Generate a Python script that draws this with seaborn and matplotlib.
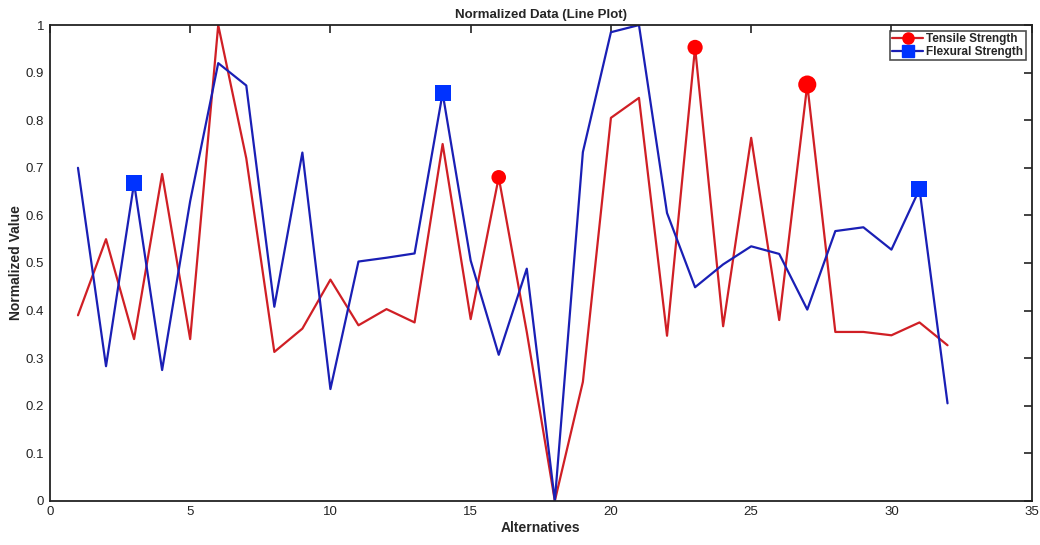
import numpy as np
import pandas as pd
import matplotlib
matplotlib.use('Agg')
import matplotlib.pyplot as plt
import seaborn as sns
from matplotlib.lines import Line2D

alternatives = list(range(1, 33))
tensile = [0.39, 0.55, 0.34, 0.687, 0.34, 1.0, 0.72, 0.313, 0.362, 0.465,
           0.369, 0.403, 0.375, 0.75, 0.382, 0.68, 0.355, 0.0, 0.25, 0.805,
           0.847, 0.347, 0.953, 0.367, 0.763, 0.38, 0.875, 0.355, 0.355, 0.348,
           0.375, 0.327]
flexural = [0.70, 0.283, 0.668, 0.275, 0.63, 0.92, 0.873, 0.408, 0.732, 0.235,
            0.503, 0.511, 0.52, 0.857, 0.505, 0.307, 0.488, 0.0, 0.733, 0.985,
            1.0, 0.605, 0.449, 0.497, 0.535, 0.519, 0.402, 0.567, 0.575, 0.528,
            0.655, 0.205]
# highlighted alternatives
tensile_marks = [16, 23, 27]
flexural_marks = [3, 14, 31]

df = pd.DataFrame({'Alternatives': alternatives, 'Tensile': tensile, 'Flexural': flexural})

sns.set_style('white')
plt.rcParams['font.family'] = ['Liberation Sans', 'DejaVu Sans']

fig = plt.figure(figsize=(10.4, 5.45), dpi=100)
ax = fig.add_axes([0.048, 0.081, 0.944, 0.873])

line_red = '#d01f25'
line_blue = '#1a1fb5'
mark_red = '#ff0000'
mark_blue = '#0033ff'

sns.lineplot(data=df, x='Alternatives', y='Tensile', color=line_red, linewidth=1.6, ax=ax)
sns.lineplot(data=df, x='Alternatives', y='Flexural', color=line_blue, linewidth=1.6, ax=ax)

tm = df[df['Alternatives'].isin(tensile_marks)]
fm = df[df['Alternatives'].isin(flexural_marks)]
sns.scatterplot(data=tm, x='Alternatives', y='Tensile', color=mark_red, marker='o',
                s=[110, 120, 170], linewidth=0, ax=ax, zorder=5)
sns.scatterplot(data=fm, x='Alternatives', y='Flexural', color=mark_blue, marker='s',
                s=140, linewidth=0, ax=ax, zorder=5)

ax.set_xlim(0, 35)
ax.set_ylim(0, 1)
ax.set_xticks(np.arange(0, 36, 5))
ax.set_yticks(np.arange(0, 1.01, 0.1))
ax.set_yticklabels(['0'] + [f'{v:.1f}' for v in np.arange(0.1, 1.0, 0.1)] + ['1'])
ax.tick_params(direction='in', length=6, width=1.2, top=True, right=True,
               labelsize=9.5, colors='#222222', pad=4)
for s in ax.spines.values():
    s.set_linewidth(1.3)
    s.set_color('#222222')

ax.set_xlabel('Alternatives', fontsize=10, fontweight='bold', labelpad=2)
ax.set_ylabel('Normalized Value', fontsize=10, fontweight='bold', labelpad=2)
ax.set_title('Normalized Data (Line Plot)', fontsize=9.5, fontweight='bold', pad=5)

handles = [
    Line2D([0], [0], color=line_red, linewidth=1.6, marker='o', markersize=8,
           markerfacecolor=mark_red, markeredgecolor=mark_red),
    Line2D([0], [0], color=line_blue, linewidth=1.6, marker='s', markersize=8,
           markerfacecolor=mark_blue, markeredgecolor=mark_blue),
]
leg = ax.legend(handles, ['Tensile Strength', 'Flexural Strength'], loc='upper right',
                prop={'weight': 'bold', 'size': 8.5}, frameon=True, fancybox=False,
                handlelength=2.6, handletextpad=0.3, borderpad=0.2, labelspacing=0.05,
                borderaxespad=0.5)
leg.get_frame().set_edgecolor('#222222')
leg.get_frame().set_linewidth(1.2)

fig.savefig('out.png', dpi=100)
